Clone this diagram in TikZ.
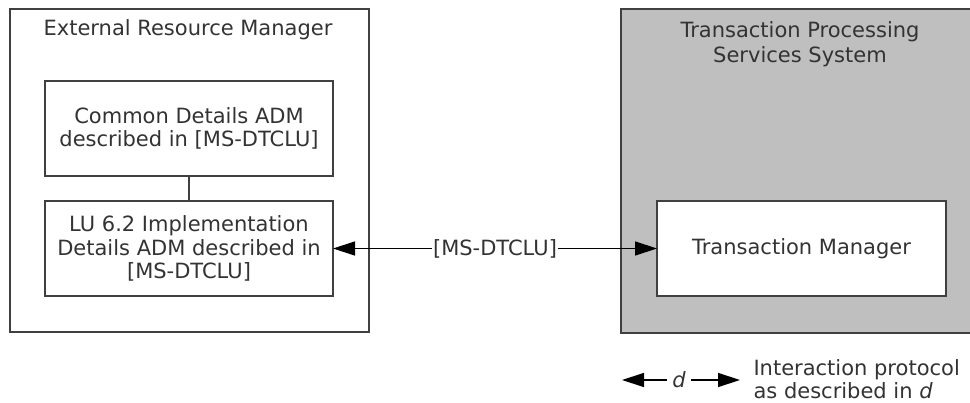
\documentclass[tikz,border=0pt]{standalone}
\usepackage{fontspec}
\setmainfont{DejaVu Sans}
\usetikzlibrary{arrows.meta}
\definecolor{boxgray}{RGB}{191,191,191}
\definecolor{linegray}{RGB}{64,64,64}
\definecolor{textgray}{RGB}{51,51,51}
\tikzset{
  frame/.style = {draw = linegray, line width = 1.3pt, rectangle, inner sep = 0pt, outer sep = 0pt},
  adm/.style = {frame, fill = white, text = textgray, minimum width = 288pt, minimum height = 95pt, align = center},
  label/.style = {text = textgray, align = center},
  tip/.style = {-{Triangle[length = 22pt, width = 14pt]}, line width = 1.3pt, draw = black}
}
\begin{document}
\begin{tikzpicture}[x = 1pt, y = -1pt, font = \fontsize{21}{23.5}\selectfont]
\useasboundingbox (0, 0) rectangle (970, 403);
\clip (0, 0) rectangle (970, 403);
\node [frame, minimum width = 359pt, minimum height = 323pt] (erm) at (189.5, 170.5) {};
\node [label] (ermtitle) at (188, 30) {External Resource Manager};
\node [adm] (common) at (189, 128.5) {Common Details ADM\\described in [MS-DTCLU]};
\node [adm] (lu) at (189, 248.5) {LU 6.2 Implementation\\Details ADM described in\\{}[MS-DTCLU]};
\draw [draw = linegray, line width = 1.3pt] (common) -- (lu);
\node [frame, fill = boxgray, minimum width = 354pt, minimum height = 324pt] (tpss) at (798, 171) {};
\node [label, font = \fontsize{21}{25}\selectfont] (tpsstitle) at (800, 44) {Transaction Processing\\Services System};
\node [adm, minimum width = 289pt] (tm) at (801.5, 248.5) {Transaction Manager};
\draw [tip] (495, 248.5) -- (lu.east);
\draw [tip] (495, 248.5) -- (tm.west);
\node [label, fill = white, inner sep = 1pt] (proto) at (495, 248.5) {[MS-DTCLU]};
\coordinate (legl) at (622, 380);
\coordinate (legr) at (740, 380);
\node [label, inner xsep = 5pt] (legd) at (679, 380) {\textit{d}};
\draw [tip] (legd) -- (legl);
\draw [tip] (legd) -- (legr);
\node [label, anchor = west, align = left] (legtext) at (750, 379) {Interaction protocol\\as described in \textit{d}};
\end{tikzpicture}
\end{document}
